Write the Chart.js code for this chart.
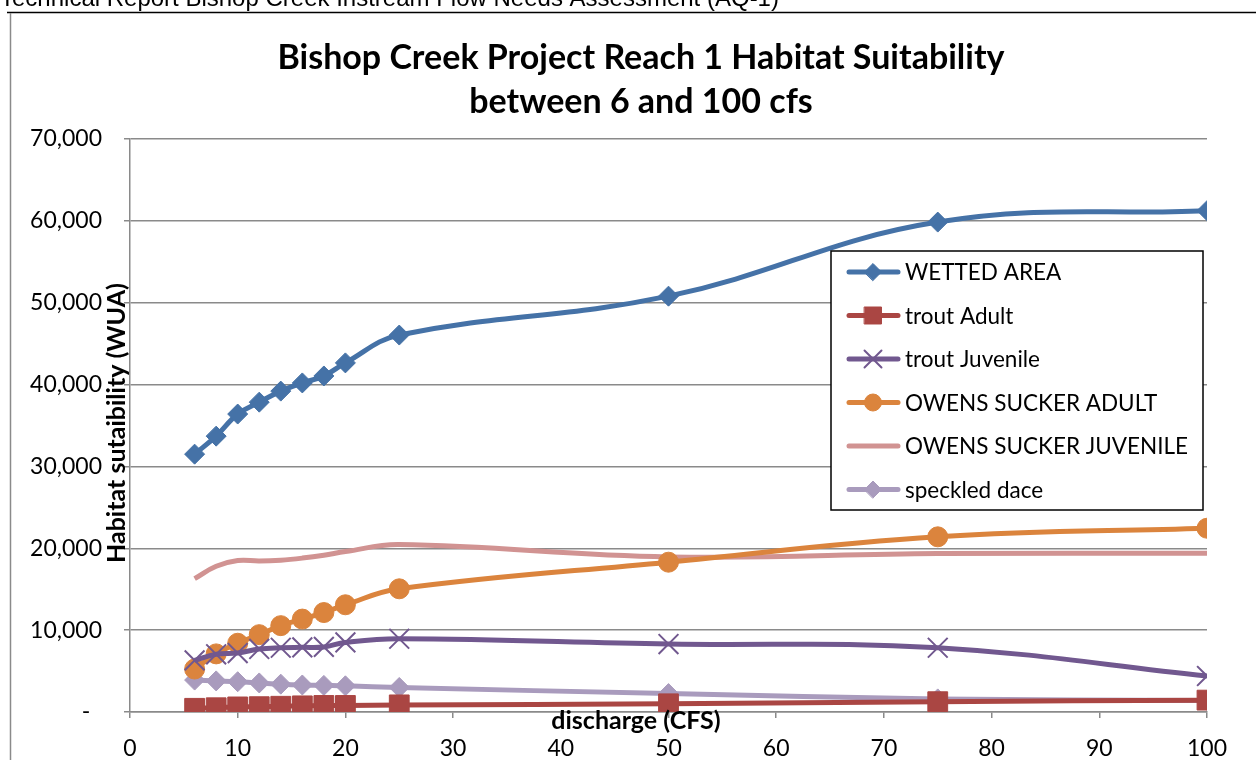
<!DOCTYPE html>
<html>
<head>
<meta charset="utf-8">
<script src="https://cdn.jsdelivr.net/npm/chart.js@4.4.0/dist/chart.umd.min.js"></script>
<style>
html,body{margin:0;padding:0;background:#fff;}
#wrap{position:relative;width:1256px;height:760px;}
</style>
</head>
<body>
<div id="wrap"><canvas id="c" width="1256" height="760"></canvas></div>
<script>
const discharge = [6, 8, 10, 12, 14, 16, 18, 20, 25, 50, 75, 100];
const wettedArea = [31500, 33700, 36400, 37850, 39200, 40200, 41050, 42650, 46050, 50800, 59850, 61250];
const troutAdult = [450, 520, 620, 650, 700, 750, 800, 800, 870, 1000, 1260, 1450];
const troutJuvenile = [6300, 7050, 7200, 7700, 7850, 7900, 7950, 8500, 8950, 8300, 7850, 4400];
const owensAdult = [5250, 7100, 8400, 9450, 10550, 11350, 12150, 13100, 15050, 18300, 21400, 22450];
const owensJuvenile = [16300, 17800, 18500, 18450, 18550, 18800, 19150, 19600, 20450, 18950, 19350, 19400];
const speckledDace = [3900, 3800, 3700, 3550, 3400, 3300, 3250, 3200, 3000, 2250, 1600, 1400];
const xTicks = [0, 10, 20, 30, 40, 50, 60, 70, 80, 90, 100];
const yTicks = [0, 10000, 20000, 30000, 40000, 50000, 60000, 70000];
const seriesNames = ['WETTED AREA', 'trout Adult', 'trout Juvenile', 'OWENS SUCKER ADULT', 'OWENS SUCKER JUVENILE', 'speckled dace'];
const titleLines = ['Bishop Creek Project Reach 1 Habitat Suitability', 'between 6 and 100 cfs'];
const headerText = 'Technical Report Bishop Creek Instream Flow Needs Assessment (AQ-1)';
const yTitle = 'Habitat sutaibility (WUA)';
const xTitle = 'discharge (CFS)';

const pts = arr => discharge.map((x, i) => ({x: x, y: arr[i]}));
const FONT = 'Lato, "Noto Sans", sans-serif';

const styles = [
  {color: '#4572A7', pointStyle: 'rectRot', radius: 10},
  {color: '#AA4643', pointStyle: 'rect', radius: 14},
  {color: '#71588F', pointStyle: 'crossRot', radius: 14},
  {color: '#DB843D', pointStyle: 'circle', radius: 10},
  {color: '#D19392', pointStyle: 'circle', radius: 0},
  {color: '#A99BBD', pointStyle: 'rectRot', radius: 10}
];
const allSeries = [wettedArea, troutAdult, troutJuvenile, owensAdult, owensJuvenile, speckledDace];

const datasets = allSeries.map((s, i) => ({
  label: seriesNames[i],
  data: pts(s),
  borderColor: styles[i].color,
  backgroundColor: styles[i].color,
  borderWidth: 5,
  pointStyle: styles[i].pointStyle,
  pointRadius: styles[i].radius,
  pointHoverRadius: styles[i].radius,
  pointBorderWidth: styles[i].pointStyle === 'crossRot' ? 2 : 1,
  pointBackgroundColor: styles[i].color,
  pointBorderColor: styles[i].color,
  tension: 0.4,
  cubicInterpolationMode: 'default',
  order: i
}));

const decor = {
  id: 'decor',
  beforeDraw(chart) {
    const ctx = chart.ctx;
    ctx.save();
    ctx.fillStyle = '#fff';
    ctx.fillRect(0, 0, chart.width, chart.height);
    // header
    ctx.fillStyle = '#000';
    ctx.font = '24px "Liberation Sans", Arial, sans-serif';
    ctx.textAlign = 'left';
    ctx.textBaseline = 'alphabetic';
    ctx.fillText(headerText, 0, 6);
    // frame
    ctx.strokeStyle = '#000';
    ctx.lineWidth = 1.5;
    ctx.beginPath();
    ctx.moveTo(7, 12.5); ctx.lineTo(1256, 12.5);
    ctx.stroke();
    ctx.strokeStyle = '#8a8a8a';
    ctx.lineWidth = 1.5;
    ctx.beginPath();
    ctx.moveTo(10.5, 13); ctx.lineTo(10.5, 760);
    ctx.stroke();
    // title
    ctx.fillStyle = '#000';
    ctx.font = 'bold 34px ' + FONT;
    ctx.textAlign = 'center';
    ctx.textBaseline = 'middle';
    ctx.fillText(titleLines[0], 641, 58);
    ctx.fillText(titleLines[1], 641, 102);
    ctx.restore();
  },
  afterDatasetsDraw(chart) {
    const ctx = chart.ctx;
    ctx.save();
    // axis titles
    ctx.fillStyle = '#000';
    ctx.font = 'bold 25px ' + FONT;
    ctx.textAlign = 'center';
    ctx.textBaseline = 'middle';
    ctx.fillText(xTitle, 636, 721);
    ctx.save();
    ctx.translate(117, 423);
    ctx.rotate(-Math.PI / 2);
    ctx.fillText(yTitle, 0, 0);
    ctx.restore();
    // legend
    const bx = 831, by = 251, bw = 372, bh = 259;
    ctx.fillStyle = '#fff';
    ctx.fillRect(bx, by, bw, bh);
    ctx.strokeStyle = '#000';
    ctx.lineWidth = 1.5;
    ctx.strokeRect(bx, by, bw, bh);
    chart.data.datasets.forEach((d, i) => {
      const cy = 272 + i * 43.5;
      ctx.strokeStyle = d.borderColor;
      ctx.lineWidth = 5;
      ctx.lineCap = 'round';
      ctx.beginPath();
      ctx.moveTo(849, cy); ctx.lineTo(898, cy);
      ctx.stroke();
      if (d.pointRadius > 0) {
        ctx.fillStyle = d.pointBackgroundColor;
        ctx.strokeStyle = d.pointBorderColor;
        ctx.lineWidth = d.pointBorderWidth;
        const r = d.pointStyle === 'rect' ? 12 : (d.pointStyle === 'crossRot' ? 12 : 8.5);
        Chart.helpers.drawPoint(ctx, {pointStyle: d.pointStyle, radius: r, rotation: 0, borderWidth: d.pointBorderWidth}, 873, cy);
      }
      ctx.fillStyle = '#000';
      ctx.font = '22.5px ' + FONT;
      ctx.textAlign = 'left';
      ctx.textBaseline = 'middle';
      ctx.fillText(d.label, 905, cy + 1);
    });
    ctx.restore();
  }
};

new Chart(document.getElementById('c'), {
  type: 'line',
  data: {datasets: datasets},
  options: {
    responsive: false,
    animation: false,
    events: [],
    layout: {padding: {top: 139, right: 49, bottom: 0, left: 0}},
    plugins: {legend: {display: false}, title: {display: false}, tooltip: {enabled: false}},
    scales: {
      x: {
        type: 'linear',
        min: 0, max: 100,
        afterBuildTicks: s => { s.ticks = xTicks.map(v => ({value: v})); },
        afterFit: s => { s.height = 48; },
        grid: {drawOnChartArea: false, drawTicks: true, tickLength: 6, color: '#8a8a8a', lineWidth: 1.5},
        border: {color: '#8a8a8a', width: 1.5},
        ticks: {color: '#000', font: {family: FONT, size: 23}, padding: 17, maxRotation: 0, autoSkip: false}
      },
      y: {
        type: 'linear',
        min: 0, max: 70000,
        afterBuildTicks: s => { s.ticks = yTicks.map(v => ({value: v})); },
        afterFit: s => { s.width = 130; },
        grid: {drawTicks: true, tickLength: 6, color: '#8a8a8a', lineWidth: 1.5},
        border: {color: '#8a8a8a', width: 1.5},
        ticks: {
          color: '#000', font: {family: FONT, size: 23}, padding: 22,
          callback: v => v === 0 ? '-  ' : v.toLocaleString('en-US')
        }
      }
    }
  },
  plugins: [decor]
});
</script>
</body>
</html>
